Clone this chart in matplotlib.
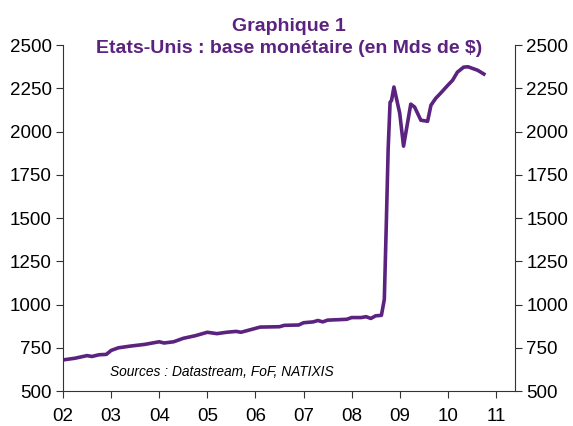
import matplotlib
matplotlib.use("Agg")
import matplotlib.pyplot as plt

plt.rcParams['font.family'] = ['Liberation Sans', 'DejaVu Sans']

# monetary base, USD bn
years = [2002.0, 2002.25, 2002.5, 2002.6, 2002.75, 2002.9, 2003.0, 2003.15, 2003.4, 2003.7,
         2004.0, 2004.1, 2004.3, 2004.5, 2004.75, 2005.0, 2005.2, 2005.4, 2005.6, 2005.7,
         2005.9, 2006.1, 2006.5, 2006.6, 2006.9, 2007.0, 2007.2, 2007.3, 2007.4, 2007.5,
         2007.9, 2008.0, 2008.2, 2008.3, 2008.4, 2008.5, 2008.62, 2008.68, 2008.72, 2008.76,
         2008.8, 2008.83, 2008.88, 2009.0, 2009.08, 2009.23, 2009.31, 2009.44, 2009.58, 2009.65,
         2009.75, 2009.85, 2010.0, 2010.1, 2010.2, 2010.33, 2010.42, 2010.62, 2010.75]
base = [680, 690, 705, 700, 710, 712, 735, 750, 760, 770,
        785, 778, 785, 805, 820, 840, 832, 840, 845, 840,
        855, 870, 872, 880, 882, 895, 900, 908, 900, 910,
        915, 925, 925, 930, 920, 935, 938, 1030, 1450, 1900,
        2170, 2180, 2258, 2107, 1916, 2159, 2142, 2066, 2060, 2153,
        2193, 2222, 2268, 2297, 2344, 2373, 2375, 2355, 2333]

xticks = [2002, 2003, 2004, 2005, 2006, 2007, 2008, 2009, 2010, 2011]
xlabels = ['02', '03', '04', '05', '06', '07', '08', '09', '10', '11']
yticks = [500, 750, 1000, 1250, 1500, 1750, 2000, 2250, 2500]

purple = '#5B237F'

fig = plt.figure(figsize=(5.73, 4.26), dpi=100)
ax = fig.add_axes([0.110, 0.082, 0.789, 0.812])
ax.plot(years, base, color=purple, lw=2.6, solid_joinstyle='round')

ax.set_xlim(2002, 2011.4)
ax.set_ylim(500, 2500)
ax.set_xticks(xticks)
ax.set_xticklabels(xlabels)
ax.set_yticks(yticks)
ax.tick_params(axis='both', labelsize=13.5, length=5, color='#333333')
ax.tick_params(axis='x', pad=7)
ax.tick_params(axis='y', labelright=True, right=True, pad=3)
ax.spines['top'].set_visible(False)
for s in ['left', 'right', 'bottom']:
    ax.spines[s].set_color('#333333')

ax.text(2002.98, 585, 'Sources : Datastream, FoF, NATIXIS', fontsize=9.9, style='italic')

fig.text(0.505, 0.938, 'Graphique 1', ha='center', va='center', fontsize=14,
         fontweight='bold', color=purple)
fig.text(0.505, 0.885, 'Etats-Unis : base monétaire (en Mds de $)', ha='center', va='center',
         fontsize=14, fontweight='bold', color=purple)

fig.savefig('out.png', dpi=100)
